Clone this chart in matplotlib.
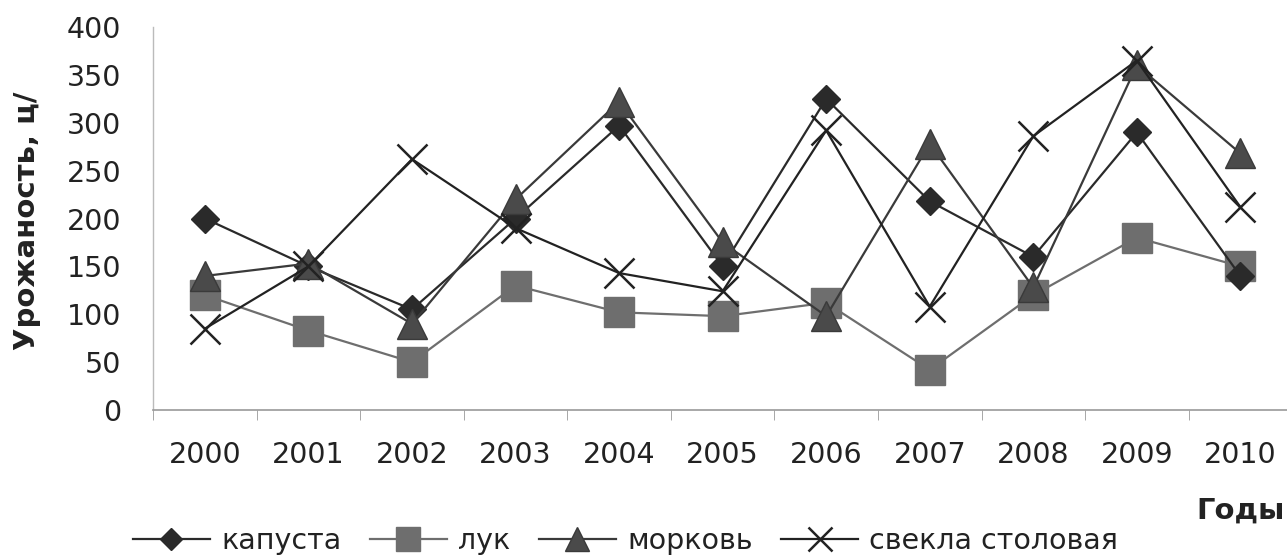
import matplotlib
matplotlib.use("Agg")
import matplotlib.pyplot as plt
from matplotlib.ticker import FixedLocator, NullFormatter

years = ["2000", "2001", "2002", "2003", "2004", "2005", "2006", "2007", "2008", "2009", "2010"]
kapusta = [200, 150, 105, 200, 297, 150, 325, 218, 160, 290, 140]
luk = [120, 83, 50, 130, 102, 98, 112, 42, 120, 180, 150]
morkov = [140, 153, 90, 220, 322, 175, 98, 278, 128, 360, 268]
svekla = [85, 150, 262, 190, 143, 124, 292, 108, 286, 365, 212]
yticks = [0, 50, 100, 150, 200, 250, 300, 350, 400]

plt.rcParams['font.family'] = ['DejaVu Sans']

W, H = 1287, 559
fig = plt.figure(figsize=(W / 100, H / 100), dpi=100)
ax = fig.add_axes([0.119, 1 - 410 / H, 0.885, (410 - 27) / H])
x = list(range(len(years)))

ax.plot(x, kapusta, color='#2a2a2a', lw=1.6, marker='D', ms=14, mfc='#2a2a2a', mec='#2a2a2a', label='капуста', zorder=4)
ax.plot(x, luk, color='#6e6e6e', lw=1.6, marker='s', ms=21, mfc='#6e6e6e', mec='#6e6e6e', label='лук', zorder=3)
ax.plot(x, morkov, color='#3a3a3a', lw=1.6, marker='^', ms=21, mfc='#4a4a4a', mec='#3a3a3a', label='морковь', zorder=5)
ax.plot(x, svekla, color='#222222', lw=1.6, marker='x', ms=21, mew=1.8, label='свекла столовая', zorder=6)

ax.set_xlim(-0.5, 10.5)
ax.set_ylim(0, 400)
ax.set_xticks(x)
ax.set_xticklabels(years, fontsize=20.5)
ax.xaxis.set_minor_locator(FixedLocator([i + 0.5 for i in range(-1, 11)]))
ax.xaxis.set_minor_formatter(NullFormatter())
ax.tick_params(axis='x', which='major', length=0, pad=22, colors='#222222')
ax.tick_params(axis='x', which='minor', length=7, color='#999999', direction='out')
ax.set_yticks(yticks)
ax.set_yticklabels([str(v) for v in yticks], fontsize=20.5)
ax.tick_params(axis='y', length=0, pad=23, colors='#222222')

for s in ['top', 'right']:
    ax.spines[s].set_visible(False)
ax.spines['left'].set_color('#bbbbbb')
ax.spines['bottom'].set_color('#999999')
ax.spines['left'].set_linewidth(1.0)
ax.spines['bottom'].set_linewidth(1.2)

fig.text(27 / W, 1 - 221 / H, 'Урожаность, ц/', rotation=90, fontsize=21, fontweight='bold',
         ha='center', va='center', color='#222222')
fig.text(1285 / W, 1 - 511 / H, 'Годы', fontsize=21, fontweight='bold', ha='right', va='center',
         color='#222222')

leg = fig.legend(loc='center left', bbox_to_anchor=(133 / W, 1 - 541 / H), ncol=4, frameon=False,
                 fontsize=20.5, handlelength=2.7, handletextpad=0.4, columnspacing=1.0,
                 markerscale=0.8, borderpad=0, borderaxespad=0)
for t in leg.get_texts():
    t.set_color('#222222')

fig.savefig('out.png', dpi=100)
